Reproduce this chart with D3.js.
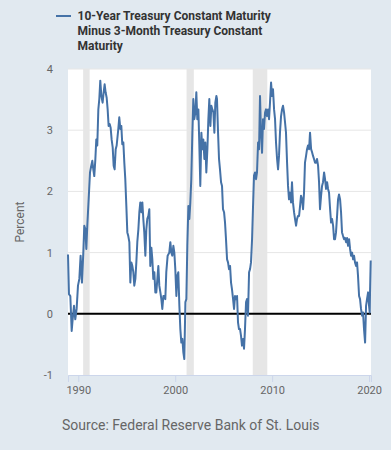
<!DOCTYPE html>
<html><head><meta charset="utf-8">
<script src="https://cdn.jsdelivr.net/npm/d3@7"></script>
<style>
html,body{margin:0;padding:0;background:#e1e9f0;}
svg{display:block;font-family:Roboto,"Noto Sans",sans-serif;}
</style></head>
<body><svg id="chart" width="391" height="450"></svg>
<script>
const seriesName = ["10-Year Treasury Constant Maturity", "Minus 3-Month Treasury Constant", "Maturity"];
const dates = [1988.94,1989.04,1989.18,1989.32,1989.42,1989.56,1989.69,1989.83,1989.97,1990.11,1990.24,1990.38,1990.52,1990.62,1990.73,1990.83,1990.93,1991.07,1991.21,1991.34,1991.45,1991.55,1991.65,1991.76,1991.86,1991.96,1992.07,1992.17,1992.27,1992.38,1992.51,1992.62,1992.72,1992.82,1992.93,1993.03,1993.13,1993.24,1993.34,1993.44,1993.55,1993.65,1993.75,1993.86,1993.96,1994.13,1994.23,1994.34,1994.44,1994.54,1994.65,1994.75,1994.85,1994.96,1995.06,1995.16,1995.27,1995.37,1995.47,1995.58,1995.68,1995.78,1995.89,1995.99,1996.09,1996.20,1996.30,1996.40,1996.51,1996.61,1996.71,1996.81,1996.92,1997.02,1997.12,1997.23,1997.33,1997.43,1997.54,1997.64,1997.74,1997.85,1997.95,1998.05,1998.16,1998.26,1998.36,1998.47,1998.57,1998.67,1998.78,1998.88,1998.98,1999.08,1999.22,1999.39,1999.50,1999.60,1999.70,1999.81,1999.91,2000.01,2000.12,2000.22,2000.32,2000.43,2000.53,2000.63,2000.74,2000.84,2000.94,2001.05,2001.15,2001.25,2001.36,2001.46,2001.56,2001.66,2001.77,2001.87,2001.97,2002.08,2002.18,2002.28,2002.39,2002.49,2002.59,2002.70,2002.80,2002.90,2003.01,2003.11,2003.21,2003.32,2003.42,2003.52,2003.63,2003.73,2003.83,2003.94,2004.04,2004.14,2004.25,2004.31,2004.42,2004.52,2004.62,2004.73,2004.83,2004.93,2005.04,2005.14,2005.24,2005.35,2005.45,2005.55,2005.66,2005.76,2005.86,2005.97,2006.07,2006.17,2006.27,2006.38,2006.48,2006.58,2006.69,2006.79,2006.89,2007.00,2007.10,2007.20,2007.31,2007.41,2007.51,2007.62,2007.72,2007.82,2007.93,2008.03,2008.13,2008.24,2008.34,2008.44,2008.55,2008.65,2008.75,2008.85,2008.96,2009.06,2009.16,2009.27,2009.37,2009.47,2009.58,2009.68,2009.78,2009.89,2009.99,2010.09,2010.20,2010.30,2010.40,2010.51,2010.61,2010.71,2010.81,2010.92,2011.02,2011.12,2011.23,2011.33,2011.43,2011.54,2011.64,2011.74,2011.85,2011.95,2012.05,2012.15,2012.26,2012.36,2012.47,2012.57,2012.67,2012.78,2012.88,2012.98,2013.09,2013.19,2013.29,2013.39,2013.50,2013.60,2013.70,2013.81,2013.91,2014.02,2014.12,2014.22,2014.32,2014.43,2014.53,2014.63,2014.74,2014.84,2014.94,2015.05,2015.15,2015.25,2015.36,2015.46,2015.56,2015.67,2015.77,2015.87,2015.98,2016.08,2016.18,2016.29,2016.39,2016.49,2016.59,2016.70,2016.80,2016.90,2017.01,2017.11,2017.21,2017.32,2017.42,2017.52,2017.63,2017.73,2017.83,2017.94,2018.04,2018.14,2018.25,2018.35,2018.45,2018.55,2018.66,2018.76,2018.86,2018.97,2019.07,2019.17,2019.28,2019.38,2019.48,2019.59,2019.69,2019.79,2019.90,2020.00,2020.07,2020.10,2020.17];
const spread = [0.97,0.32,0.29,-0.28,-0.09,0.13,-0.09,0.08,0.46,0.57,0.95,0.51,1.00,1.44,1.38,1.06,1.44,1.87,2.31,2.42,2.50,2.36,2.25,2.52,2.85,2.75,3.34,3.51,3.81,3.56,3.45,3.62,3.75,3.62,3.53,3.34,3.07,3.10,3.04,2.85,2.72,2.42,2.36,2.69,2.75,3.02,3.21,3.02,3.07,2.77,2.80,2.47,2.20,1.76,1.33,1.27,1.17,0.51,0.84,0.78,0.68,0.46,0.57,0.84,1.17,1.38,1.66,1.82,1.66,1.82,1.55,1.33,0.95,1.38,1.55,1.60,1.71,0.78,1.08,0.89,0.57,0.68,0.35,0.35,0.57,0.78,0.46,0.35,0.24,0.08,0.29,0.29,0.24,0.68,0.95,1.00,1.17,1.00,0.95,1.11,1.00,0.73,0.29,0.62,0.68,0.13,-0.25,-0.47,-0.41,-0.63,-0.74,0.19,0.24,1.11,1.76,1.55,1.82,2.20,2.96,3.51,3.18,3.29,3.62,3.18,3.34,2.75,2.09,2.96,2.69,2.85,2.53,2.80,2.31,2.69,3.18,3.51,3.07,3.40,3.34,3.29,2.96,3.45,3.56,3.51,2.96,2.53,2.36,2.15,2.09,1.71,1.66,1.49,1.22,0.89,0.84,0.73,0.78,0.51,0.40,0.24,0.08,0.29,0.24,0.29,-0.14,-0.25,-0.25,-0.36,-0.52,-0.41,-0.57,-0.25,0.19,0.24,-0.03,0.68,0.73,0.84,1.22,1.76,2.26,2.31,2.20,2.31,2.80,2.69,3.56,2.96,2.63,3.18,3.02,3.29,3.34,3.23,3.34,3.18,3.45,3.78,3.56,3.67,3.34,3.18,2.80,2.53,2.36,2.58,2.96,3.23,3.34,3.40,3.29,3.13,2.96,2.47,2.09,1.87,1.98,1.82,2.15,1.82,1.66,1.55,1.44,1.55,1.60,1.60,1.76,1.93,1.87,1.71,1.98,2.47,2.58,2.69,2.75,2.69,2.96,2.69,2.64,2.58,2.53,2.47,2.47,2.53,2.42,2.15,1.71,1.93,2.09,2.15,2.31,2.20,2.04,2.15,2.04,1.98,1.71,1.49,1.55,1.44,1.22,1.22,1.33,1.60,1.87,1.95,1.87,1.66,1.33,1.27,1.22,1.24,1.17,1.24,1.11,1.22,1.06,0.95,1.00,0.89,0.95,0.84,0.78,0.84,0.62,0.29,0.24,0.08,-0.03,0.02,-0.25,-0.47,0.13,0.24,0.35,0.13,0.02,0.35,0.87];
const recessionStart = [1990.5, 2001.17, 2008.0];
const recessionEnd = [1991.17, 2001.92, 2009.5];
const yTicks = [-1, 0, 1, 2, 3, 4];
const xTicks = [1990, 2000, 2010, 2020];
const yLabel = "Percent";
const sourceText = "Source: Federal Reserve Bank of St. Louis";

const svg = d3.select("#chart");
const L = 68, R = 371, T = 69, B = 375;
const x = d3.scaleLinear().domain([1988.94, 2020.2]).range([L, R]);
const y = d3.scaleLinear().domain([-1, 4]).range([B, T]);

// legend
svg.append("line").attr("x1", 56).attr("x2", 71).attr("y1", 16).attr("y2", 16)
  .attr("stroke", "#4572a7").attr("stroke-width", 2);
svg.append("g").selectAll("text").data(seriesName).join("text")
  .attr("x", 77.5).attr("y", (d, i) => 20 + i * 15)
  .attr("font-size", 12).attr("font-weight", "bold").attr("fill", "#333").text(d => d);

// plot background
svg.append("rect").attr("x", L).attr("y", T).attr("width", R - L).attr("height", B - T).attr("fill", "#fff");

// recessions
svg.append("g").selectAll("rect").data(recessionStart).join("rect")
  .attr("x", d => x(d)).attr("y", T)
  .attr("width", (d, i) => x(recessionEnd[i]) - x(d)).attr("height", B - T)
  .attr("fill", "#e6e6e6");

// gridlines
svg.append("g").selectAll("line").data(yTicks.filter(v => v > -1)).join("line")
  .attr("x1", L).attr("x2", R).attr("y1", d => y(d)).attr("y2", d => y(d))
  .attr("stroke", "#e6e6e6").attr("stroke-width", 1);

// y tick labels
svg.append("g").selectAll("text").data(yTicks).join("text")
  .attr("x", 53).attr("y", d => y(d) + 4).attr("text-anchor", "end")
  .attr("font-size", 11).attr("fill", "#666").text(d => d);

// y label
svg.append("text").attr("transform", `translate(24,${(T + B) / 2}) rotate(-90)`)
  .attr("text-anchor", "middle").attr("font-size", 12).attr("fill", "#666").text(yLabel);

// x axis
const xa = svg.append("g").attr("transform", `translate(0,${B})`)
  .call(d3.axisBottom(x).tickValues(xTicks).tickFormat(d3.format("d")).tickSize(7).tickPadding(4));
xa.select(".domain").attr("stroke", "#ccd6eb");
xa.selectAll(".tick line").attr("stroke", "#ccd6eb");
xa.selectAll(".tick text").attr("font-size", 11).attr("fill", "#666").attr("font-family", "Roboto");

// zero line
svg.append("line").attr("x1", L).attr("x2", R).attr("y1", y(0)).attr("y2", y(0))
  .attr("stroke", "#000").attr("stroke-width", 2);

// series
const line = d3.line().x((d, i) => x(dates[i])).y(d => y(d));
svg.append("path").datum(spread).attr("d", line)
  .attr("fill", "none").attr("stroke", "#4572a7").attr("stroke-width", 2).attr("stroke-linejoin", "round");

// source
svg.append("text").attr("x", 62).attr("y", 430).attr("font-size", 14).attr("fill", "#666").text(sourceText);
</script></body></html>
